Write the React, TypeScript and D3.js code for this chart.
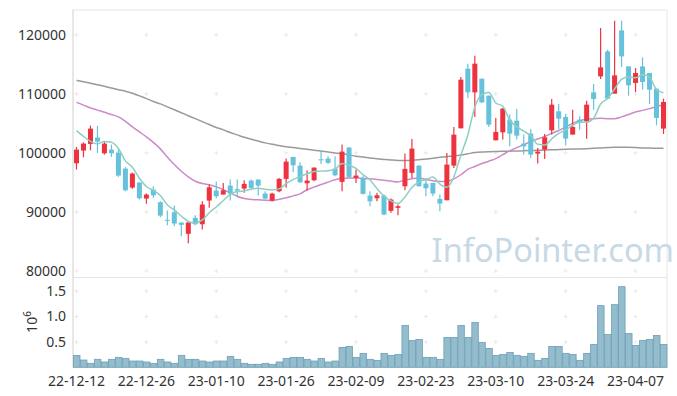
import React from "react";
import * as d3 from "d3";

const dates = [
  "22-12-12", "22-12-13", "22-12-14", "22-12-15", "22-12-16", "22-12-19", "22-12-20", "22-12-21", "22-12-22", "22-12-23",
  "22-12-26", "22-12-27", "22-12-28", "22-12-29", "23-01-02", "23-01-03", "23-01-04", "23-01-05", "23-01-06", "23-01-09",
  "23-01-10", "23-01-11", "23-01-12", "23-01-13", "23-01-16", "23-01-17", "23-01-18", "23-01-19", "23-01-20", "23-01-25",
  "23-01-26", "23-01-27", "23-01-30", "23-01-31", "23-02-01", "23-02-02", "23-02-03", "23-02-06", "23-02-07", "23-02-08",
  "23-02-09", "23-02-10", "23-02-13", "23-02-14", "23-02-15", "23-02-16", "23-02-17", "23-02-20", "23-02-21", "23-02-22",
  "23-02-23", "23-02-24", "23-02-27", "23-02-28", "23-03-02", "23-03-03", "23-03-06", "23-03-07", "23-03-08", "23-03-09",
  "23-03-10", "23-03-13", "23-03-14", "23-03-15", "23-03-16", "23-03-17", "23-03-20", "23-03-21", "23-03-22", "23-03-23",
  "23-03-24", "23-03-27", "23-03-28", "23-03-29", "23-03-30", "23-03-31", "23-04-03", "23-04-04", "23-04-05", "23-04-06",
  "23-04-07", "23-04-10", "23-04-11", "23-04-12", "23-04-13",
];

const opens = [
  98240, 100389, 101523, 102589, 99932, 100558, 100051, 97344, 94129, 94975,
  92268, 93790, 91642, 88664, 89950, 88207, 86295, 89002, 87919, 91929,
  93621, 92944, 94467, 93875, 93960, 95313, 95482, 93114, 91929, 93503,
  95601, 99323, 97851, 94856, 95364, 98917, 99036, 97344, 95093, 100897,
  95770, 95702, 92775, 92318, 92775, 90186, 90694, 94349, 96616, 97851,
  94806, 94924, 92217, 91980, 97851, 104162, 114264, 110254, 112572, 109695,
  102132, 103486, 105634, 105465, 101574, 103266, 99882, 100558, 103824, 107039,
  106091, 103096, 105634, 105347, 110254, 112961, 117191, 110034, 120744, 114653,
  111844, 114653, 113536, 110880, 104112,
];

const highs = [
  101015, 101794, 104619, 104619, 101861, 101404, 100558, 97631, 96667, 95093,
  93113, 94349, 91811, 90237, 91083, 88207, 88427, 89442, 91811, 94636,
  95144, 94924, 95482, 95482, 95364, 95482, 95482, 93503, 93232, 95770,
  99036, 99323, 98410, 97005, 97513, 100440, 99425, 99425, 101404, 101015,
  97174, 96041, 93503, 93232, 92944, 92268, 91252, 99882, 102369, 97900,
  95770, 94924, 92944, 100000, 104399, 112859, 115110, 116463, 112572, 109695,
  105922, 107600, 106500, 107445, 103096, 104061, 100846, 103215, 109137, 108291,
  106650, 107326, 106193, 108849, 111675, 121150, 117478, 122385, 122385, 114653,
  114382, 116175, 113536, 110880, 109188,
];

const lows = [
  97174, 99255, 100440, 100000, 99712, 99323, 95939, 93503, 93909, 92098,
  91371, 92386, 89104, 87750, 87581, 85889, 84704, 87750, 87022, 90694,
  92318, 92944, 91929, 92437, 93232, 93790, 92775, 92098, 91760, 93334,
  94078, 96718, 94924, 93621, 95195, 98139, 98139, 96041, 93503, 95770,
  94924, 92944, 90965, 91811, 89442, 89848, 89442, 93672, 95770, 94300,
  92657, 92657, 90119, 91980, 97462, 104162, 109306, 106091, 108460, 104399,
  102132, 102250, 101117, 102250, 99712, 99154, 98190, 98985, 103096, 104061,
  101235, 103096, 103942, 102400, 107326, 112521, 109188, 110034, 114551, 109695,
  110321, 110710, 108291, 104670, 103215,
];

const closes = [
  100558, 101574, 104112, 101912, 101574, 99932, 96159, 93672, 96498, 92318,
  92944, 92826, 89391, 88495, 88038, 87818, 88207, 87919, 91252, 94180,
  92657, 93672, 93114, 93621, 94755, 94078, 94467, 92268, 93114, 95601,
  98528, 97902, 95026, 95313, 97513, 98816, 98308, 96210, 100220, 95939,
  96159, 93063, 91811, 92826, 89560, 92098, 90965, 97293, 100728, 94349,
  94010, 93114, 91422, 98020, 103096, 112402, 110254, 115110, 108562, 104788,
  103553, 107496, 103266, 102927, 101117, 99712, 100220, 102640, 108172, 105804,
  102420, 104399, 105178, 108172, 109137, 114484, 109188, 113130, 116345, 111438,
  113536, 112013, 110710, 105922, 108629,
];

const volumes = [
  235000, 144000, 78000, 157000, 105000, 157000, 196000, 176000, 124000, 124000,
  105000, 78000, 157000, 105000, 78000, 235000, 157000, 157000, 124000, 105000,
  124000, 124000, 216000, 157000, 78000, 59000, 59000, 78000, 59000, 105000,
  176000, 196000, 196000, 157000, 124000, 176000, 105000, 124000, 392000, 412000,
  196000, 275000, 157000, 137000, 275000, 235000, 255000, 824000, 529000, 549000,
  196000, 196000, 157000, 588000, 588000, 824000, 588000, 882000, 490000, 373000,
  235000, 255000, 294000, 235000, 216000, 275000, 137000, 176000, 412000, 412000,
  275000, 255000, 137000, 275000, 451000, 1216000, 647000, 1235000, 1588000, 667000,
  431000, 529000, 549000, 627000, 451000,
];

const ma5 = [
  103773, 102800, 101960, 101520, 101946, 101821, 100738, 98650, 97567, 95716,
  94318, 93652, 92795, 91195, 90339, 89314, 88390, 88095, 88647, 89875,
  90843, 91936, 92975, 93449, 93564, 93848, 94007, 93838, 93736, 93906,
  94796, 95483, 96034, 96474, 96856, 96914, 96995, 97232, 98213, 97899,
  97367, 96318, 95438, 93960, 92684, 91872, 91452, 92548, 94129, 95087,
  95469, 95899, 94725, 94183, 95932, 99611, 103039, 107776, 109885, 110223,
  108453, 107902, 105533, 104406, 103672, 102904, 101448, 101323, 102372, 103310,
  103851, 104687, 105195, 105195, 105861, 108274, 109232, 110822, 112457, 112917,
  112727, 113292, 112808, 110724, 110162,
];

const ma20 = [
  108560, 108100, 107610, 107250, 106870, 106500, 106090, 105350, 104400, 103550,
  102710, 101790, 100680, 99320, 98020, 96890, 95940, 95200, 94810, 94590,
  94250, 93790, 93230, 92660, 92270, 92100, 92050, 91980, 91930, 92150,
  92390, 92720, 93060, 93760, 94200, 94640, 95050, 95450, 95650, 95750,
  95770, 95700, 95620, 95500, 95370, 95230, 95090, 95400, 95620, 95770,
  95500, 95300, 95150, 95200, 95600, 96300, 97200, 97700, 98200, 98600,
  99040, 99700, 100350, 100900, 101400, 101900, 102350, 102800, 103300, 103800,
  104400, 105000, 105470, 105700, 105800, 105850, 105800, 105800, 106100, 106500,
  106940, 107200, 107500, 107850, 108170,
];

const ma60 = [
  112280, 112050, 111800, 111550, 111300, 110980, 110700, 110450, 110100, 109650,
  109200, 108700, 108300, 107800, 107300, 106800, 106300, 105800, 105300, 104800,
  104300, 103900, 103450, 103050, 102650, 102300, 102000, 101700, 101450, 101250,
  101050, 100900, 100750, 100600, 100450, 100300, 100150, 100000, 99850, 99650,
  99450, 99300, 99150, 99000, 98900, 98800, 98720, 98700, 98750, 98850,
  98980, 99100, 99250, 99380, 99500, 99650, 99850, 100050, 100150, 100200,
  100230, 100260, 100280, 100320, 100360, 100400, 100450, 100490, 100530, 100560,
  100600, 100640, 100680, 100720, 100780, 100850, 100900, 100950, 100950, 100940,
  100900, 100850, 100820, 100800, 100780,
];

const priceTicks = [80000, 90000, 100000, 110000, 120000];
const volumeTicks = [500000, 1000000, 1500000];
const labelEvery = 10;

const UP = "#ee3340";
const DOWN = "#66c2da";
const FONT = "'Noto Sans', 'Open Sans', sans-serif";

export default function App() {
  const left = 73, right = 667, top = 10, split = 277.5, bottom = 367.3;
  const idx = d3.range(dates.length);

  const x = d3.scaleBand<number>().domain(idx).range([left, right]).padding(0);
  const cx = (i: number) => (x(i) as number) + x.bandwidth() / 2;
  const y = d3.scaleLinear().domain([78900, 124200]).range([split, top]);
  const yv = d3.scaleLinear().domain([0, 1770000]).range([bottom, split]);

  const line = d3
    .line<number>()
    .x((_, i) => cx(i))
    .y(d => y(d))
    .curve(d3.curveMonotoneX);

  const bodyW = 5;
  const xTicks = idx.filter(i => i % labelEvery === 0);
  const gridYs = [...priceTicks.map(t => y(t)), ...volumeTicks.map(t => yv(t))];

  return (
    <svg
      width={677}
      height={396}
      style={{ position: "absolute", left: 0, top: 0, background: "#fff" }}
      fontFamily={FONT}
    >
      {/* frame */}
      <rect x={left} y={top} width={right - left} height={bottom - top} fill="none" stroke="#e6e6e6" />
      <line x1={left} x2={right} y1={split} y2={split} stroke="#e6e6e6" />
      <line x1={left} x2={left} y1={top} y2={bottom} stroke="#dcdcdc" />

      {/* grid crosses */}
      {xTicks.map(i =>
        gridYs.map((gy, k) => (
          <g key={`g${i}-${k}`} stroke="#e8e8e8" strokeWidth={1}>
            <line x1={cx(i) - 2} x2={cx(i) + 2} y1={gy} y2={gy} />
            <line x1={cx(i)} x2={cx(i)} y1={gy - 2} y2={gy + 2} />
          </g>
        ))
      )}

      {/* watermark */}
      <text x={674} y={262} fontSize={32.5} fill="#c6d9e5" textAnchor="end">
        InfoPointer.com
      </text>

      {/* moving averages */}
      <path d={line(ma60) ?? ""} fill="none" stroke="#9a9a9a" strokeWidth={1.5} />
      <path d={line(ma20) ?? ""} fill="none" stroke="#cc8ac6" strokeWidth={1.5} />

      {/* candles */}
      {idx.map(i => {
        const up = closes[i] >= opens[i];
        const c = up ? UP : DOWN;
        const yTop = y(Math.max(opens[i], closes[i]));
        const yBot = y(Math.min(opens[i], closes[i]));
        return (
          <g key={`c${i}`}>
            <line x1={cx(i)} x2={cx(i)} y1={y(highs[i])} y2={y(lows[i])} stroke={c} strokeWidth={1.2} />
            <rect x={cx(i) - bodyW / 2} y={yTop} width={bodyW} height={Math.max(1, yBot - yTop)} fill={c} />
          </g>
        );
      })}

      <path d={line(ma5) ?? ""} fill="none" stroke="#8ccfc3" strokeWidth={1.5} />

      {/* volume */}
      {idx.map(i => (
        <rect
          key={`v${i}`}
          x={(x(i) as number) + 0.5}
          y={yv(volumes[i])}
          width={x.bandwidth() - 0.5}
          height={bottom - yv(volumes[i])}
          fill="#93bccd"
          stroke="#6e9fb6"
          strokeWidth={0.8}
        />
      ))}

      {/* axis labels */}
      {priceTicks.map(t => (
        <text key={`p${t}`} x={66} y={y(t)} dy="0.35em" textAnchor="end" fontSize={14} fill="#333">
          {t}
        </text>
      ))}
      {volumeTicks.map(t => (
        <text key={`vt${t}`} x={66} y={yv(t)} dy="0.35em" textAnchor="end" fontSize={14} fill="#333">
          {d3.format(".1f")(t / 1e6)}
        </text>
      ))}
      <text transform="translate(37,322) rotate(-90)" fontSize={14} fill="#333" textAnchor="middle">
        10<tspan dy={-6} fontSize={10}>6</tspan>
      </text>
      {xTicks.map(i => (
        <text key={`x${i}`} x={cx(i)} y={386} textAnchor="middle" fontSize={14} fill="#333">
          {dates[i]}
        </text>
      ))}
    </svg>
  );
}
